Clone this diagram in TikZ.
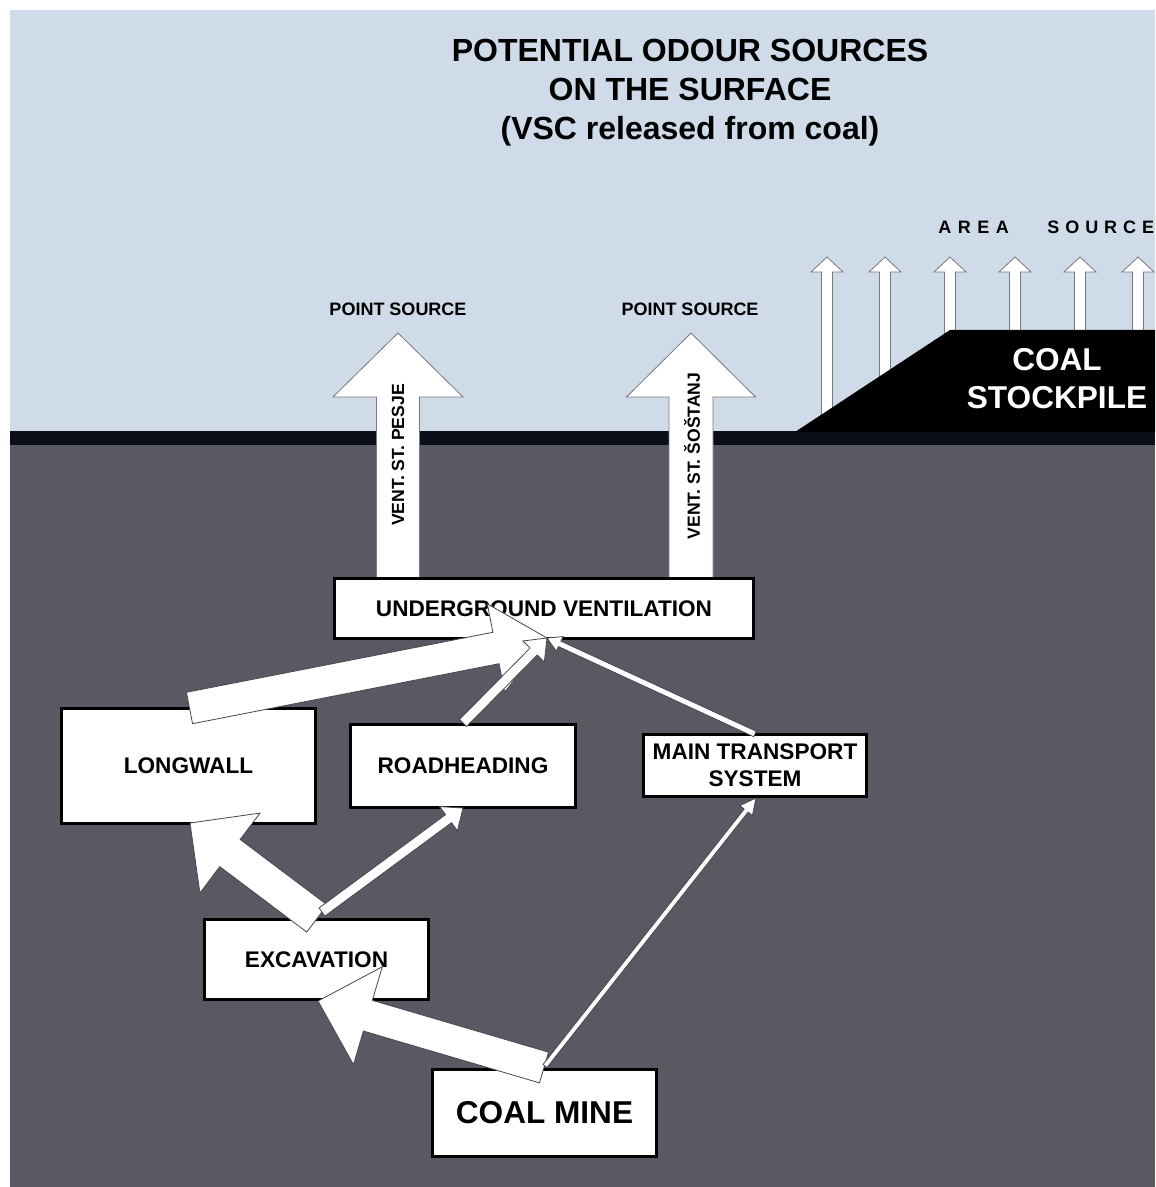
\documentclass[tikz,border=0pt]{standalone}
\usepackage{fontspec}
\setmainfont{Liberation Sans}
\usetikzlibrary{calc}
\definecolor{sky}{RGB}{207,219,233}
\definecolor{ground}{RGB}{89,89,99}
\definecolor{band}{RGB}{11,15,24}
\definecolor{edge}{RGB}{70,70,76}
\definecolor{lightedge}{RGB}{120,120,128}
\newcommand\boxfont{\fontsize{11.3}{13.5}\selectfont\bfseries}
\newcommand\titlefont{\fontsize{16}{19.5}\selectfont\bfseries}
\newcommand\bigfont{\fontsize{15.8}{19}\selectfont\bfseries}
\newcommand\smallfont{\fontsize{9}{11}\selectfont\bfseries}
\newcommand\vertfont{\fontsize{8.8}{10}\selectfont\bfseries}
\tikzset{
  box/.style={draw=black, line width=1.5pt, fill=white, inner sep=0pt, font=\boxfont, align=center},
  barrow/.style={fill=white, draw=edge, line width=0.4pt, line join=miter},
  aarrow/.style={fill=white, draw=lightedge, line width=0.4pt, line join=miter},
}
% #1 style, #2 tail, #3 tip, #4 half shaft, #5 half head, #6 head length
\newcommand\blockarrow[6][barrow]{%
  \coordinate (ba-base) at ($(#3)!#6!(#2)$);
  \draw[#1] ($(#2)!#4!90:(#3)$) -- ($(ba-base)!#4!90:(#3)$) -- ($(ba-base)!#5!90:(#3)$)
    -- (#3) -- ($(ba-base)!#5!-90:(#3)$) -- ($(ba-base)!#4!-90:(#3)$)
    -- ($(#2)!#4!-90:(#3)$) -- cycle;
}
\begin{document}
\begin{tikzpicture}[x=0.5pt,y=-0.5pt]
\useasboundingbox (0,0) rectangle (1155,1187);
\fill[white] (0,0) rectangle (1155,1187);
% background
\fill[sky] (10,10) rectangle (1155,431);
\fill[band] (10,431) rectangle (1155,445);
\fill[ground] (10,445) rectangle (1155,1187);

% title
\node[font=\titlefont, align=center] (title) at (690,93) {POTENTIAL ODOUR SOURCES\\ON THE SURFACE\\(VSC released from coal)};

% area source labels
\node[font=\smallfont\addfontfeatures{LetterSpace=36}, anchor=west, inner sep=0pt] (area) at (938,227) {AREA};
\node[font=\smallfont\addfontfeatures{LetterSpace=33}, anchor=west, inner sep=0pt] (source) at (1047,227) {SOURCE};

% area arrows
\foreach \x [count=\i] in {827,885,950,1015,1080,1138}{
  \coordinate (at\i) at (\x,425);
  \coordinate (ah\i) at (\x,257);
  \blockarrow[aarrow]{at\i}{ah\i}{2.75pt}{8pt}{7.5pt}
}

% stockpile
\fill[black] (795,432) -- (950,330) -- (1155,330) -- (1155,432) -- cycle;
\node[font=\bigfont, text=white, align=center] (stock) at (1057,379) {COAL\\STOCKPILE};

% point sources
\node[font=\smallfont] (ps1) at (398,309) {POINT SOURCE};
\node[font=\smallfont] (ps2) at (690,309) {POINT SOURCE};
\coordinate (p1t) at (398,578);
\coordinate (p1h) at (398,333);
\coordinate (p2t) at (691,578);
\coordinate (p2h) at (691,333);
\blockarrow[aarrow]{p1t}{p1h}{10.75pt}{32.5pt}{32pt}
\blockarrow[aarrow]{p2t}{p2h}{11pt}{32.25pt}{32pt}
\node[font=\vertfont, rotate=90] (v1) at (398,455) {VENT. ST. PESJE};
\node[font=\vertfont, rotate=90] (v2) at (692,456) {VENT. ST. ŠOŠTANJ};

% boxes
\node[box, minimum width=209.5pt, minimum height=30pt] (vent) at (544,608.5) {UNDERGROUND VENTILATION};
\node[box, minimum width=127pt, minimum height=57.5pt] (long) at (188.5,766) {LONGWALL};
\node[box, minimum width=112.5pt, minimum height=41.5pt] (road) at (463,766) {ROADHEADING};
\node[box, minimum width=111.5pt, minimum height=31pt] (mts) at (755,765.5) {MAIN TRANSPORT\\SYSTEM};
\node[box, minimum width=112pt, minimum height=40pt] (exc) at (316.5,959.5) {EXCAVATION};
\node[box, font=\bigfont, minimum width=112pt, minimum height=43.5pt] (mine) at (544.5,1113) {COAL MINE};

% connector end points
\coordinate (m1) at (544,1067.5);
\coordinate (e1) at (318,1001);
\coordinate (m2) at (545,1066);
\coordinate (t1) at (756,798);
\coordinate (e2) at (317,918.5);
\coordinate (l1) at (190,823);
\coordinate (e3) at (322,912);
\coordinate (r1) at (463,808);
\coordinate (l2) at (189.5,708);
\coordinate (vv) at (547,638);
\coordinate (r2) at (463,723);
\coordinate (t2) at (755,734);

% block arrows
\blockarrow{m1}{e1}{8pt}{25.5pt}{26pt}
\blockarrow{m2}{t1}{1.25pt}{4pt}{8pt}
\blockarrow{e2}{l1}{8.5pt}{25pt}{25pt}
\blockarrow{e3}{r1}{2.5pt}{7.5pt}{9pt}
\blockarrow{l2}{vv}{8pt}{22.5pt}{26pt}
\blockarrow{r2}{vv}{2.5pt}{7.5pt}{9.5pt}
\blockarrow{t2}{vv}{1.5pt}{4pt}{7pt}
\end{tikzpicture}
\end{document}
